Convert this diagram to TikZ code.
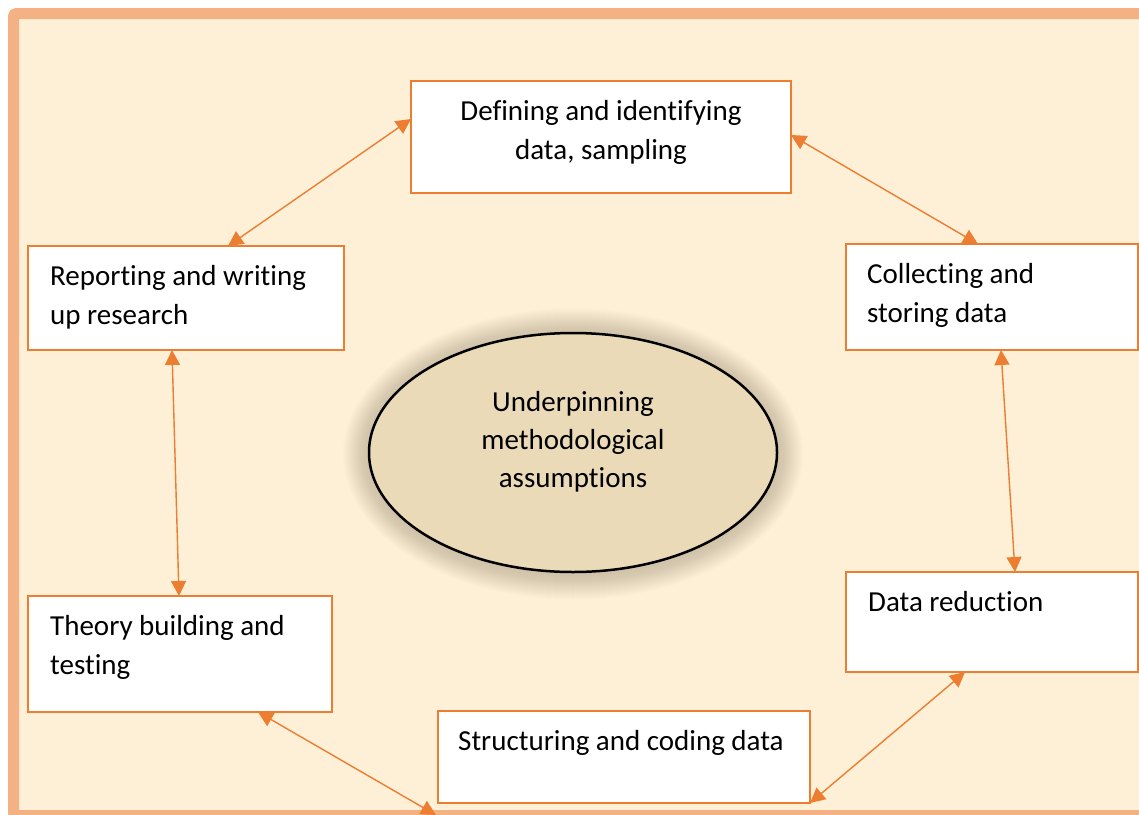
\documentclass[tikz,border=0pt]{standalone}
\usepackage{fontspec}
\setmainfont{Carlito}[RawFeature={-liga;-clig;-calt;-dlig}]
\usetikzlibrary{arrows.meta,calc,shapes.geometric}

\definecolor{frameorange}{HTML}{F4B183}
\definecolor{boxorange}{HTML}{ED7D31}
\definecolor{parchment}{HTML}{FDF0D7}
\definecolor{ovaltan}{HTML}{EADAB8}
\definecolor{glowbrown}{HTML}{9A8A72}

% multi-line text whose baseline is that of its first line
\newcommand\lefttext[1]{\begin{tabular}[t]{@{}l@{}}#1\end{tabular}}
\newcommand\midtext[1]{\begin{tabular}[t]{@{}c@{}}#1\end{tabular}}

\begin{document}
\begin{tikzpicture}[x=1pt,y=-1pt,
  stepbox/.style={draw=boxorange, line width=2.5pt, fill=white, rectangle,
    inner sep=0pt, outer sep=0pt, anchor=north west},
  boxtext/.style={inner sep=0pt, anchor=base west, font=\fontsize{29}{39}\selectfont},
  midboxtext/.style={boxtext, anchor=base},
  conn/.style={draw=boxorange, line width=1.4pt,
    {Triangle[length=15pt,width=15pt]}-{Triangle[length=15pt,width=15pt]}}
]
\useasboundingbox (0,0) rectangle (1139,814);
\clip (0,0) rectangle (1139,814);

% page, parchment panel and its frame
\fill[white] (0,0) rectangle (1139,814);
\fill[parchment] (13.5,13.5) rectangle (1160,815.5);
\draw[frameorange, line width=11pt, rounded corners=3pt] (13.5,13.5) rectangle (1160,815.5);

% soft glow round the central oval
\foreach \k in {1,...,26}{
  \fill[glowbrown, fill opacity=0.014] (573,454) ellipse ({204+\k} and {119.5+\k});
}
\node[draw=black, line width=2.5pt, fill=ovaltan, ellipse, minimum width=408pt,
  minimum height=239pt, inner sep=0pt] (core) at (573,452.5) {};
\node[midboxtext, font=\fontsize{29}{38}\selectfont] (coretext) at (573,411)
  {\midtext{Underpinning\\methodological\\assumptions}};

% stage boxes
\node[stepbox, minimum width=380pt, minimum height=112pt] (def) at (411,81) {};
\node[stepbox, minimum width=292pt, minimum height=106pt] (col) at (846,244) {};
\node[stepbox, minimum width=316pt, minimum height=104pt] (rep) at (28,246) {};
\node[stepbox, minimum width=304pt, minimum height=116pt] (thy) at (28,596) {};
\node[stepbox, minimum width=292pt, minimum height=100pt] (red) at (846,572) {};
\node[stepbox, minimum width=372pt, minimum height=92pt] (str) at (438,711) {};

% stage labels
\node[midboxtext] (deftext) at ($(def.north)+(0,39)$)
  {\midtext{Defining and identifying\\data, sampling}};
\node[boxtext] (coltext) at ($(col.north west)+(21,39)$)
  {\lefttext{Collecting and\\storing data}};
\node[boxtext] (reptext) at ($(rep.north west)+(22,39)$)
  {\lefttext{Reporting and writing\\up research}};
\node[boxtext] (thytext) at ($(thy.north west)+(22,39)$)
  {\lefttext{Theory building and\\testing}};
\node[boxtext] (redtext) at ($(red.north west)+(22,39)$) {Data reduction};
\node[boxtext] (strtext) at ($(str.north west)+(20,39)$) {Structuring and coding data};

% loose end of the link that runs off the lower edge
\coordinate (lowend) at (436,815);

% two-way links between the stages
\draw[conn] ($(def.north west)+(0,38)$) -- ($(rep.north west)+(200,0)$);
\draw[conn] ($(def.north east)+(0,54)$) -- ($(col.north west)+(132,0)$);
\draw[conn] ($(col.south west)+(155,0)$) -- ($(red.north west)+(169,0)$);
\draw[conn] ($(red.south west)+(119,0)$) -- (str.south east);
\draw[conn] ($(thy.south west)+(230,0)$) -- (lowend);
\draw[conn] ($(rep.south west)+(144,0)$) -- ($(thy.north west)+(151,0)$);
\end{tikzpicture}
\end{document}
